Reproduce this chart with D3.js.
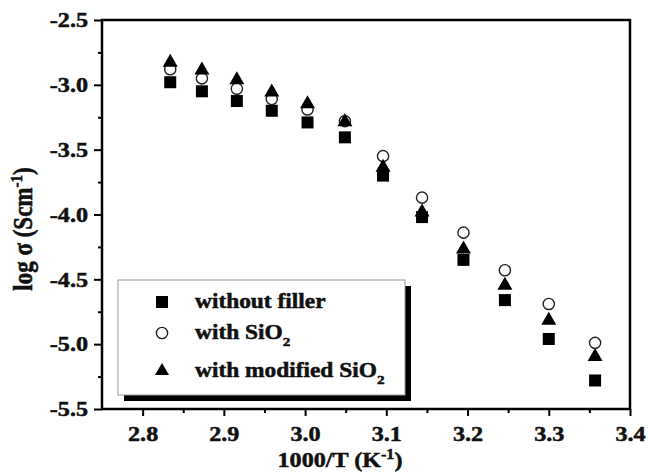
<!DOCTYPE html>
<html>
<head>
<meta charset="utf-8">
<script src="https://cdn.jsdelivr.net/npm/d3@7"></script>
<style>
  html, body { margin: 0; padding: 0; background: #fff; }
  svg { display: block; }
  text { font-family: "Liberation Serif", "Times New Roman", serif; font-weight: bold; fill: #111; stroke: #111; stroke-width: 0.5px; }
</style>
</head>
<body>
<div id="chart"></div>
<script>
// 1000/T (K^-1)
const invTemp = [2.834, 2.873, 2.916, 2.959, 3.003, 3.049, 3.096, 3.144, 3.195, 3.246, 3.300, 3.357];
// log sigma (S/cm)
const withoutFiller = [-2.98, -3.05, -3.125, -3.20, -3.29, -3.405, -3.70, -4.02, -4.35, -4.66, -4.96, -5.28];
const withSiO2      = [-2.88, -2.95, -3.03, -3.11, -3.19, -3.28, -3.55, -3.87, -4.14, -4.43, -4.69, -4.99];
const withModSiO2   = [-2.81, -2.87, -2.945, -3.04, -3.13, -3.27, -3.62, -3.965, -4.25, -4.53, -4.80, -5.08];

const xTicks = [2.8, 2.9, 3.0, 3.1, 3.2, 3.3, 3.4];
const xMinor = [2.85, 2.95, 3.05, 3.15, 3.25, 3.35];
const yTicks = [-2.5, -3.0, -3.5, -4.0, -4.5, -5.0, -5.5];
const yMinor = [-2.75, -3.25, -3.75, -4.25, -4.75, -5.25];

const W = 648, H = 473;
const pLeft = 102, pRight = 630, pTop = 20, pBottom = 409;
const stretch = 1.15; // the source figure is a bit wide
const serif = '"Liberation Serif", "Times New Roman", serif';

const svg = d3.select("#chart").append("svg")
  .attr("width", W).attr("height", H);

const x = d3.scaleLinear().domain([2.75, 3.4]).range([pLeft, pRight]);
const y = d3.scaleLinear().domain([-5.5, -2.5]).range([pBottom, pTop]);

// minor ticks first
svg.append("g")
  .attr("transform", `translate(0,${pBottom})`)
  .call(d3.axisBottom(x).tickValues(xMinor).tickSize(4).tickFormat(""))
  .call((g) => g.select(".domain").remove())
  .selectAll("line").attr("stroke", "#000").attr("stroke-width", 2);

svg.append("g")
  .attr("transform", `translate(${pLeft},0)`)
  .call(d3.axisLeft(y).tickValues(yMinor).tickSize(4).tickFormat(""))
  .call((g) => g.select(".domain").remove())
  .selectAll("line").attr("stroke", "#000").attr("stroke-width", 2);

// X axis
const gx = svg.append("g")
  .attr("transform", `translate(0,${pBottom})`)
  .call(d3.axisBottom(x).tickValues(xTicks).tickSize(7).tickPadding(10).tickFormat(d3.format(".1f")))
  .call((g) => g.select(".domain").remove());
gx.selectAll("line").attr("stroke", "#000").attr("stroke-width", 2);
gx.selectAll("text")
  .style("font-family", serif).style("font-weight", "bold").style("font-size", "21px")
  .attr("fill", "#111")
  .attr("transform", `scale(${stretch},1)`);

// Y axis
const gy = svg.append("g")
  .attr("transform", `translate(${pLeft},0)`)
  .call(d3.axisLeft(y).tickValues(yTicks).tickSize(8).tickPadding(6).tickFormat(d3.format(".1f")))
  .call((g) => g.select(".domain").remove());
gy.selectAll("line").attr("stroke", "#000").attr("stroke-width", 2);
gy.selectAll("text")
  .style("font-family", serif).style("font-weight", "bold").style("font-size", "21px")
  .attr("fill", "#111")
  .attr("x", -14 / stretch)
  .attr("transform", `scale(${stretch},1)`)
  .text((d) => d3.format(".1f")(d).replace("−", "-"));

// frame
svg.append("rect")
  .attr("x", pLeft).attr("y", pTop)
  .attr("width", pRight - pLeft).attr("height", pBottom - pTop)
  .attr("fill", "none").attr("stroke", "#000").attr("stroke-width", 2.5);

// data
const pts = (vals) => invTemp.map((t, i) => ({ x: t, y: vals[i] }));
const tri = (w, h) => `M0,${-h / 2}L${w / 2},${h / 2}L${-w / 2},${h / 2}Z`;

svg.selectAll(".sq")
  .data(pts(withoutFiller))
  .join("rect")
  .attr("class", "sq")
  .attr("x", (d) => x(d.x) - 6).attr("y", (d) => y(d.y) - 6)
  .attr("width", 12).attr("height", 12)
  .attr("fill", "#000");

svg.selectAll(".circ")
  .data(pts(withSiO2))
  .join("circle")
  .attr("class", "circ")
  .attr("cx", (d) => x(d.x)).attr("cy", (d) => y(d.y))
  .attr("r", 5.6)
  .attr("fill", "none").attr("stroke", "#222").attr("stroke-width", 1.4);

svg.selectAll(".tri")
  .data(pts(withModSiO2))
  .join("path")
  .attr("class", "tri")
  .attr("transform", (d) => `translate(${x(d.x)},${y(d.y)})`)
  .attr("d", tri(15, 13))
  .attr("fill", "#000");

// axis titles
const xt = svg.append("text")
  .attr("transform", `translate(340,467) scale(${stretch},1)`)
  .attr("text-anchor", "middle")
  .attr("font-size", "21px");
xt.append("tspan").text("1000/T (K");
xt.append("tspan").attr("font-size", "14px").attr("dy", -8).text("-1");
xt.append("tspan").attr("dy", 8).text(")");

const yt = svg.append("text")
  .attr("transform", `translate(32,229) rotate(-90) scale(1,${stretch})`)
  .attr("text-anchor", "middle")
  .attr("font-size", "23px");
yt.append("tspan").text("log σ (Scm");
yt.append("tspan").attr("font-size", "15px").attr("dy", -9).text("-1");
yt.append("tspan").attr("dy", 9).text(")");

// legend
const legend = svg.append("g");
legend.append("rect")
  .attr("x", 124).attr("y", 286).attr("width", 287).attr("height", 115)
  .attr("fill", "#000");
legend.append("rect")
  .attr("x", 118).attr("y", 280).attr("width", 287).attr("height", 115)
  .attr("fill", "#fff").attr("stroke", "#999").attr("stroke-width", 1);

const lx = 162, tx = 195;
legend.append("rect")
  .attr("x", lx - 6).attr("y", 302 - 6).attr("width", 12).attr("height", 12)
  .attr("fill", "#000");
legend.append("circle")
  .attr("cx", lx).attr("cy", 333).attr("r", 5.6)
  .attr("fill", "none").attr("stroke", "#222").attr("stroke-width", 1.4);
legend.append("path")
  .attr("transform", `translate(${lx},369)`)
  .attr("d", tri(14, 12)).attr("fill", "#000");

const legendText = (yy, main, sub) => {
  const t = legend.append("text")
    .attr("transform", `translate(${tx},${yy}) scale(1.17,1)`)
    .attr("font-size", "20px");
  t.append("tspan").text(main);
  if (sub) t.append("tspan").attr("font-size", "13px").attr("dy", 7).text(sub);
};
legendText(308, "without filler");
legendText(339, "with SiO", "2");
legendText(377, "with modified SiO", "2");
</script>
</body>
</html>
